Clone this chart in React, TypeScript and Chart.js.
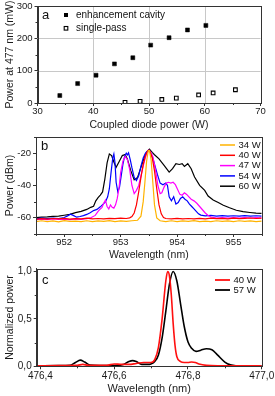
import React, { useEffect, useRef } from "react";
import { Chart, registerables } from "chart.js";

Chart.register(...registerables);

// ---------------- Panel a: output power vs coupled diode power ----------------
const cavityDiodePower = [34.0, 37.2, 40.5, 43.8, 47.1, 50.3, 53.6, 56.9, 60.2];
const cavityPower = [23, 60, 86, 121, 140, 179, 202, 226, 240];
const singleDiodePower = [45.7, 48.4, 52.3, 54.9, 58.9, 61.5, 65.5];
const singlePower = [2, 5, 11, 15, 25, 31, 41];
const legendA = ["enhancement cavity", "single-pass"];
const xTicksA = [30, 40, 50, 60, 70];
const yTicksA = [0, 100, 200, 300];

// ---------------- Panel b: spectra (dBm) ----------------
const labelsB = ["34 W", "40 W", "47 W", "54 W", "60 W"];
const xTicksB = [952, 953, 954, 955];
const yTicksB = [-60, -40, -20];

const wl34 = [951.5, 951.6, 951.7, 951.8, 951.9, 952.0, 952.1, 952.2, 952.3, 952.4, 952.5, 952.6, 952.7, 952.8, 952.9, 953.0, 953.1, 953.2, 953.3, 953.36, 953.4, 953.43, 953.46, 953.49, 953.51, 953.54, 953.57, 953.6, 953.64, 953.7, 953.8, 953.9, 954.0, 954.1, 954.2, 954.3, 954.4, 954.5, 954.6, 954.7, 954.8, 954.9, 955.0, 955.1, 955.2, 955.3, 955.4, 955.5];
const p34 = [-62.4, -61.8, -62.3, -61.9, -62.5, -61.7, -62.2, -62.0, -62.4, -61.8, -62.3, -61.9, -62.2, -61.7, -62.3, -61.9, -62.2, -61.8, -61.5, -59, -50, -38, -25, -18.5, -18.3, -24, -38, -52, -60, -61.8, -62.3, -61.8, -62.4, -61.9, -62.2, -61.7, -62.3, -62.0, -62.4, -61.8, -62.2, -61.9, -62.3, -61.8, -62.2, -61.9, -62.4, -62.0];

const wl40 = [951.5, 951.6, 951.7, 951.8, 951.9, 952.0, 952.1, 952.2, 952.3, 952.4, 952.5, 952.6, 952.7, 952.8, 952.9, 953.0, 953.1, 953.16, 953.2, 953.24, 953.28, 953.32, 953.36, 953.4, 953.44, 953.48, 953.5, 953.52, 953.56, 953.6, 953.64, 953.68, 953.72, 953.76, 953.8, 953.9, 954.0, 954.1, 954.2, 954.3, 954.4, 954.5, 954.6, 954.7, 954.8, 954.9, 955.0, 955.1, 955.2, 955.3, 955.4, 955.5];
const p40 = [-60.9, -60.5, -60.8, -60.4, -60.7, -60.3, -60.8, -60.5, -60.6, -60.2, -60.7, -60.4, -60.6, -60.3, -60.5, -60.2, -60.4, -60.0, -59.2, -57, -52, -44, -35, -27, -21.5, -18.5, -18, -18.8, -23, -31, -42, -52, -57.5, -59.8, -60.4, -60.7, -60.3, -60.6, -60.4, -60.7, -60.3, -60.6, -60.2, -60.5, -60.3, -60.6, -60.2, -60.5, -60.3, -60.1, -60.4, -60.2];

const wl47 = [951.5, 951.6, 951.7, 951.8, 951.9, 952.0, 952.1, 952.2, 952.3, 952.4, 952.48, 952.55, 952.6, 952.64, 952.67, 952.7, 952.73, 952.76, 952.79, 952.82, 952.85, 952.88, 952.91, 952.94, 952.97, 953.0, 953.04, 953.08, 953.12, 953.16, 953.2, 953.24, 953.28, 953.32, 953.36, 953.4, 953.44, 953.48, 953.5, 953.53, 953.57, 953.62, 953.66, 953.7, 953.73, 953.77, 953.81, 953.85, 953.89, 953.93, 953.97, 954.01, 954.05, 954.09, 954.13, 954.17, 954.21, 954.25, 954.3, 954.35, 954.4, 954.45, 954.5, 954.55, 954.6, 954.7, 954.8, 954.9, 955.0, 955.1, 955.2, 955.3, 955.4, 955.5];
const p47 = [-61.2, -60.8, -61.1, -60.7, -61.0, -60.8, -61.1, -60.7, -60.9, -60.5, -59.8, -58.5, -56, -54.5, -53.5, -51, -49, -53, -54.5, -52, -53.5, -54, -52, -48, -42, -32, -25, -22, -24, -30, -40, -45, -43, -40, -34, -28, -22.5, -19, -18.3, -19, -22, -31, -40, -45, -44.5, -41, -38.5, -38, -38.5, -38, -39.5, -42.5, -45.5, -46, -44.5, -45.5, -47, -48.5, -49.5, -51, -53, -55, -57, -58.5, -59.5, -60.1, -59.8, -60.2, -59.9, -60.2, -59.8, -60.1, -59.9, -60.1];

const wl54 = [951.5, 951.6, 951.7, 951.8, 951.9, 952.0, 952.06, 952.11, 952.16, 952.22, 952.28, 952.34, 952.4, 952.46, 952.52, 952.58, 952.64, 952.69, 952.73, 952.77, 952.8, 952.83, 952.86, 952.88, 952.9, 952.92, 952.95, 952.98, 953.01, 953.04, 953.07, 953.1, 953.12, 953.14, 953.17, 953.2, 953.24, 953.28, 953.32, 953.36, 953.4, 953.44, 953.48, 953.5, 953.53, 953.57, 953.61, 953.65, 953.7, 953.75, 953.8, 953.83, 953.86, 953.9, 953.94, 953.98, 954.02, 954.06, 954.1, 954.14, 954.18, 954.22, 954.26, 954.3, 954.34, 954.38, 954.42, 954.5, 954.6, 954.7, 954.8, 954.9, 955.0, 955.1, 955.2, 955.3, 955.4, 955.5];
const p54 = [-60.6, -60.2, -60.5, -60.1, -60.4, -59.8, -58.8, -57.8, -58.5, -59.6, -59.2, -58.6, -57.9, -56.8, -55.5, -54.8, -53.2, -51.5, -50.2, -47, -42, -32, -23, -20.5, -26, -38, -44, -41, -34, -27, -22, -20, -21, -19.8, -24, -29, -35, -37, -34, -28, -23, -20, -18.5, -18, -19.5, -23, -28, -33, -38.5, -39.5, -38.5, -40, -47, -49.5, -47, -51.5, -50.5, -48, -47, -48.5, -49.5, -51.5, -53, -54.5, -56, -57.5, -58.3, -58.8, -58.5, -58.9, -58.6, -59, -58.7, -58.9, -58.6, -58.9, -58.7, -58.9];

const wl60 = [951.5, 951.6, 951.7, 951.8, 951.9, 952.0, 952.1, 952.2, 952.3, 952.4, 952.47, 952.52, 952.56, 952.6, 952.64, 952.68, 952.72, 952.76, 952.8, 952.84, 952.88, 952.92, 952.97, 953.03, 953.08, 953.12, 953.18, 953.24, 953.3, 953.36, 953.42, 953.47, 953.51, 953.56, 953.6, 953.68, 953.77, 953.86, 953.92, 953.98, 954.04, 954.09, 954.13, 954.19, 954.25, 954.31, 954.4, 954.49, 954.55, 954.64, 954.73, 954.82, 954.93, 955.05, 955.17, 955.29, 955.4, 955.5];
const p60 = [-59.9, -59.6, -59.4, -59.1, -58.9, -58.4, -57.9, -56.8, -56.0, -54.8, -53.5, -52.8, -49.5, -47.5, -46, -44, -36, -26, -20.5, -21.5, -25.5, -28.8, -25.5, -21.5, -20.8, -23.7, -30.8, -36.5, -35, -28.8, -22.5, -19, -17.5, -19.5, -21, -23.5, -27.6, -31.7, -29.6, -26.5, -27, -26.5, -28.2, -26.5, -29.6, -34.8, -39.9, -43, -46.5, -49, -50.5, -52.2, -53.8, -55.3, -56.2, -56.7, -57.1, -57.3];

// ---------------- Panel c: normalized spectra ----------------
const labelsC = ["40 W", "57 W"];
const xTicksC = [476.4, 476.6, 476.8, 477.0];
const yTicksC = [0, 0.5, 1.0];
const wl40c = [476.39, 476.45, 476.5, 476.515, 476.53, 476.58, 476.6, 476.62, 476.64, 476.66, 476.68, 476.7, 476.71, 476.72, 476.73, 476.74, 476.745, 476.75, 476.755, 476.76, 476.765, 476.77, 476.78, 476.79, 476.8, 476.81, 476.82, 476.83, 476.85, 476.88, 476.95, 477.0];
const v40c = [0.005, 0.008, 0.01, 0.02, 0.01, 0.01, 0.025, 0.02, 0.02, 0.03, 0.04, 0.04, 0.07, 0.2, 0.5, 0.9, 1.0, 0.95, 0.75, 0.45, 0.22, 0.1, 0.05, 0.04, 0.04, 0.045, 0.04, 0.025, 0.01, 0.005, 0.005, 0.005];
const wl57c = [476.39, 476.45, 476.48, 476.495, 476.508, 476.52, 476.535, 476.56, 476.6, 476.625, 476.64, 476.65, 476.66, 476.675, 476.69, 476.7, 476.71, 476.72, 476.73, 476.74, 476.75, 476.76, 476.77, 476.78, 476.79, 476.8, 476.81, 476.822, 476.835, 476.85, 476.865, 476.88, 476.9, 476.915, 476.93, 476.96, 477.0];
const v57c = [0.005, 0.008, 0.01, 0.04, 0.065, 0.045, 0.012, 0.008, 0.008, 0.02, 0.05, 0.06, 0.05, 0.02, 0.02, 0.025, 0.05, 0.12, 0.3, 0.58, 0.87, 1.0, 0.9, 0.66, 0.42, 0.26, 0.19, 0.157, 0.17, 0.185, 0.175, 0.12, 0.045, 0.015, 0.006, 0.005, 0.005];

// ---------------- styling ----------------
const FONT = "'Liberation Sans', Arial, Helvetica, sans-serif";
const AXIS = "#333";
const TXT = "#1a1a1a";
const GRID = "#c8c8c8";
const COLORS_B = ["#FFB300", "#FF0000", "#FF00FF", "#0000FF", "#000000"];
const COLORS_C = ["#FF1010", "#000000"];

const pts = (xs: number[], ys: number[]) => xs.map((x, i) => ({ x, y: ys[i] }));
const comma = (v: number) => v.toFixed(1).replace(".", ",");

function makeScale(o: any) {
  return {
    type: "linear",
    min: o.min,
    max: o.max,
    afterBuildTicks: (s: any) => {
      s.ticks = o.ticks.map((v: number) => ({ value: v }));
    },
    ticks: {
      padding: o.tickPad,
      color: TXT,
      font: { family: FONT, size: o.tickSize },
      callback: (v: any) => (o.fmt ? o.fmt(Number(v)) : String(v)),
    },
    grid: {
      drawOnChartArea: false,
      color: GRID,
      tickLength: 3,
      tickColor: AXIS,
    },
    border: { display: true, color: AXIS, width: 1 },
    title: {
      display: true,
      text: o.title,
      color: TXT,
      font: { family: FONT, size: o.titleSize },
      padding: o.titlePad,
    },
    afterFit: (s: any) => {
      if (o.horizontal) {
        s.height = o.size;
        s.paddingLeft = 0;
        s.paddingRight = 0;
      } else {
        s.width = o.size;
        s.paddingTop = 0;
        s.paddingBottom = 0;
      }
    },
  };
}

// light grid lines (panel a), drawn under the data
function gridPlugin(xs: number[], ys: number[]) {
  return {
    id: "gridLines",
    beforeDatasetsDraw(chart: any) {
      const { ctx, chartArea: a, scales } = chart;
      ctx.save();
      ctx.strokeStyle = GRID;
      ctx.lineWidth = 1;
      xs.forEach((v) => {
        const p = Math.round(scales.x.getPixelForValue(v)) + 0.5;
        ctx.beginPath();
        ctx.moveTo(p, a.top);
        ctx.lineTo(p, a.bottom);
        ctx.stroke();
      });
      ys.forEach((v) => {
        const p = Math.round(scales.y.getPixelForValue(v)) + 0.5;
        ctx.beginPath();
        ctx.moveTo(a.left, p);
        ctx.lineTo(a.right, p);
        ctx.stroke();
      });
      ctx.restore();
    },
  };
}

const framePlugin = {
  id: "frame",
  afterDraw(chart: any) {
    const { ctx, chartArea: a } = chart;
    ctx.save();
    ctx.strokeStyle = AXIS;
    ctx.lineWidth = 1;
    const l = Math.round(a.left) + 0.5;
    const t = Math.round(a.top) + 0.5;
    const r = Math.round(a.right) + 0.5;
    const b = Math.round(a.bottom) + 0.5;
    ctx.strokeRect(l, t, r - l, b - t);
    ctx.restore();
  },
};

const minorPlugin = {
  id: "minor",
  afterDraw(chart: any) {
    const { ctx, chartArea: a } = chart;
    ctx.save();
    ctx.strokeStyle = AXIS;
    ctx.lineWidth = 1;
    ["x", "y"].forEach((id) => {
      const s = chart.scales[id];
      const vals = s.ticks.map((t: any) => t.value);
      if (vals.length < 2) return;
      const step = vals[1] - vals[0];
      let m = vals[0] - step / 2;
      while (m - step >= s.min) m -= step;
      for (; m <= s.max + 1e-9; m += step) {
        if (m < s.min - 1e-9) continue;
        const p = Math.round(s.getPixelForValue(m)) + 0.5;
        ctx.beginPath();
        if (id === "x") {
          ctx.moveTo(p, a.bottom);
          ctx.lineTo(p, a.bottom + 2);
        } else {
          ctx.moveTo(a.left - 2, p);
          ctx.lineTo(a.left, p);
        }
        ctx.stroke();
      }
    });
    ctx.restore();
  },
};

function overlayPlugin(spec: any) {
  return {
    id: "overlay",
    afterDraw(chart: any) {
      const ctx = chart.ctx;
      ctx.save();
      ctx.textBaseline = "middle";
      ctx.textAlign = "left";
      ctx.fillStyle = "#111";
      ctx.font = `${spec.letterSize}px ${FONT}`;
      ctx.fillText(spec.letter, spec.letterX, spec.letterY);
      ctx.font = `${spec.fontSize}px ${FONT}`;
      spec.items.forEach((it: any, i: number) => {
        const y = spec.y0 + i * spec.dy;
        if (it.kind === "line") {
          ctx.strokeStyle = it.color;
          ctx.lineWidth = spec.lineWidth;
          ctx.beginPath();
          ctx.moveTo(spec.markX0, y);
          ctx.lineTo(spec.markX1, y);
          ctx.stroke();
        } else if (it.kind === "filled") {
          ctx.fillStyle = "#000";
          ctx.fillRect(spec.markX0 - 2, y - 2, 4, 4);
        } else {
          ctx.fillStyle = "#fff";
          ctx.strokeStyle = "#000";
          ctx.lineWidth = 1.1;
          ctx.fillRect(spec.markX0 - 1.8, y - 1.8, 3.6, 3.6);
          ctx.strokeRect(spec.markX0 - 1.8, y - 1.8, 3.6, 3.6);
        }
        ctx.fillStyle = "#111";
        ctx.fillText(it.label, spec.textX, y);
      });
      ctx.restore();
    },
  };
}

const baseOptions = (padding: any, scales: any) => ({
  animation: false,
  responsive: false,
  layout: { padding },
  plugins: { legend: { display: false }, tooltip: { enabled: false } },
  scales,
});

function buildA() {
  return {
    type: "line",
    data: {
      datasets: [
        {
          label: legendA[0],
          data: pts(cavityDiodePower, cavityPower),
          showLine: false,
          pointStyle: "rect",
          pointRadius: 2.8,
          backgroundColor: "#000",
          borderColor: "#000",
          borderWidth: 0.5,
        },
        {
          label: legendA[1],
          data: pts(singleDiodePower, singlePower),
          showLine: false,
          pointStyle: "rect",
          pointRadius: 2.6,
          backgroundColor: "#fff",
          borderColor: "#000",
          borderWidth: 1.1,
        },
      ],
    },
    options: baseOptions(
      { left: 0, top: 6, right: 14.5, bottom: 0 },
      {
        x: makeScale({ horizontal: true, size: 30, min: 30, max: 70, ticks: xTicksA, title: "Coupled diode power (W)", tickPad: 0, tickSize: 9.5, titleSize: 10.5, titlePad: { top: 0, bottom: 2 } }),
        y: makeScale({ horizontal: false, size: 37.5, min: 0, max: 300, ticks: yTicksA, title: "Power at 477 nm (mW)", tickPad: 2, tickSize: 9.5, titleSize: 10.5, titlePad: { top: 4, bottom: 0 } }),
      }
    ),
    plugins: [
      gridPlugin(xTicksA.slice(1, -1), yTicksA.slice(1, -1)),
      framePlugin,
      minorPlugin,
      overlayPlugin({
        letter: "a", letterX: 42, letterY: 15, letterSize: 13, fontSize: 10,
        items: [
          { label: legendA[0], kind: "filled" },
          { label: legendA[1], kind: "open" },
        ],
        y0: 15, dy: 13.3, markX0: 66, textX: 76,
      }),
    ],
  };
}

function buildB() {
  const series = [
    [wl34, p34],
    [wl40, p40],
    [wl47, p47],
    [wl54, p54],
    [wl60, p60],
  ];
  return {
    type: "line",
    data: {
      datasets: series.map(([xs, ys], i) => ({
        label: labelsB[i],
        data: pts(xs, ys),
        borderColor: COLORS_B[i],
        borderWidth: 1.2,
        pointRadius: 0,
        fill: false,
        tension: 0,
      })),
    },
    options: baseOptions(
      { left: 0, top: 4, right: 13.3, bottom: 0 },
      {
        x: makeScale({ horizontal: true, size: 29, min: 951.5, max: 955.5, ticks: xTicksB, title: "Wavelength (nm)", tickPad: 0, tickSize: 9.5, titleSize: 10.5, titlePad: { top: 0, bottom: 2 } }),
        y: makeScale({ horizontal: false, size: 36, min: -70, max: -10, ticks: yTicksB, title: "Power (dBm)", tickPad: 2, tickSize: 9.5, titleSize: 10.5, titlePad: { top: 4, bottom: 0 } }),
      }
    ),
    plugins: [
      framePlugin,
      minorPlugin,
      overlayPlugin({
        letter: "b", letterX: 41, letterY: 13, letterSize: 13, fontSize: 9.5,
        items: labelsB.map((l, i) => ({ label: l, kind: "line", color: COLORS_B[i] })),
        y0: 12, dy: 10.3, markX0: 220, markX1: 235, textX: 238.5, lineWidth: 1.5,
      }),
    ],
  };
}

function buildC() {
  const series = [
    [wl40c, v40c],
    [wl57c, v57c],
  ];
  return {
    type: "line",
    data: {
      datasets: series.map(([xs, ys], i) => ({
        label: labelsC[i],
        data: pts(xs, ys),
        borderColor: COLORS_C[i],
        borderWidth: 1.6,
        pointRadius: 0,
        fill: false,
        cubicInterpolationMode: "monotone",
      })),
    },
    options: baseOptions(
      { left: 0, top: 5.7, right: 13.3, bottom: 0 },
      {
        x: makeScale({ horizontal: true, size: 29.7, min: 476.39, max: 477.0, ticks: xTicksC, fmt: comma, title: "Wavelength (nm)", tickPad: 0.5, tickSize: 10, titleSize: 11, titlePad: { top: 0, bottom: 0 } }),
        y: makeScale({ horizontal: false, size: 36.7, min: 0, max: 1.03, ticks: yTicksC, fmt: comma, title: "Normalized power", tickPad: 2, tickSize: 10, titleSize: 10.5, titlePad: { top: 4, bottom: 0 } }),
      }
    ),
    plugins: [
      framePlugin,
      minorPlugin,
      overlayPlugin({
        letter: "c", letterX: 42, letterY: 17.3, letterSize: 13, fontSize: 9.5,
        items: labelsC.map((l, i) => ({ label: l, kind: "line", color: COLORS_C[i] })),
        y0: 17, dy: 10, markX0: 215, markX1: 230, textX: 233.5, lineWidth: 1.8,
      }),
    ],
  };
}

function ChartPanel({ top, height, build }: { top: number; height: number; build: () => any }) {
  const ref = useRef<HTMLCanvasElement>(null);
  useEffect(() => {
    const chart = new Chart(ref.current as HTMLCanvasElement, build());
    return () => chart.destroy();
  }, []);
  return (
    <canvas
      ref={ref}
      width={275}
      height={height}
      style={{ position: "absolute", left: 0, top, width: 275, height, display: "block" }}
    />
  );
}

export default function App() {
  return (
    <div style={{ position: "fixed", left: 0, top: 0, width: 275, height: 396, background: "#fff", overflow: "hidden" }}>
      <ChartPanel top={0} height={133} build={buildA} />
      <ChartPanel top={133} height={130} build={buildB} />
      <ChartPanel top={263} height={133} build={buildC} />
    </div>
  );
}
